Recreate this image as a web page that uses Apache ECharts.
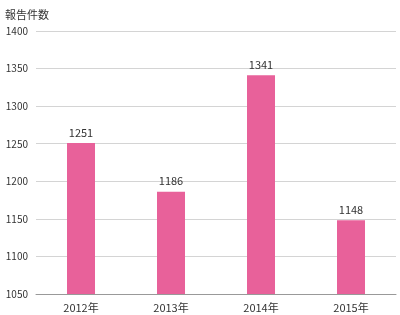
<!DOCTYPE html>
<html><head><meta charset="utf-8">
<script src="https://cdn.jsdelivr.net/npm/echarts@6/dist/echarts.min.js"></script>
<style>html,body{margin:0;padding:0;background:#fff}#c{width:400px;height:315px}</style>
</head><body><div id="c"></div>
<script>
const categories = ['2012年','2013年','2014年','2015年'];
const values = [1251, 1186, 1341, 1148];
const yTitle = '報告件数';
const chart = echarts.init(document.getElementById('c'), null, {renderer:'canvas'});
chart.setOption({
  animation:false,
  title:{text:yTitle,left:0,top:4,textStyle:{fontSize:11,fontWeight:'normal',color:'#333',fontFamily:'Noto Sans CJK JP'}},
  grid:{left:36,right:4,top:31,bottom:21,containLabel:false},
  xAxis:{type:'category',data:categories,axisTick:{show:false},
    axisLine:{lineStyle:{color:'#999'}},
    axisLabel:{color:'#333',fontSize:11,margin:8,fontFamily:'Noto Sans CJK JP'}},
  yAxis:{type:'value',min:1050,max:1400,interval:50,
    axisLine:{show:false},axisTick:{show:false},
    splitLine:{lineStyle:{color:'#d4d4d4',width:1}},
    axisLabel:{color:'#333',fontSize:10,margin:8,fontFamily:'Noto Sans CJK JP',formatter:v=>String(v)}},
  series:[{type:'bar',data:values,barWidth:28,itemStyle:{color:'#E8619A'},
    label:{show:true,position:'top',color:'#333',fontSize:11,distance:5,fontFamily:'Noto Sans CJK JP'}}]
});
</script></body></html>
